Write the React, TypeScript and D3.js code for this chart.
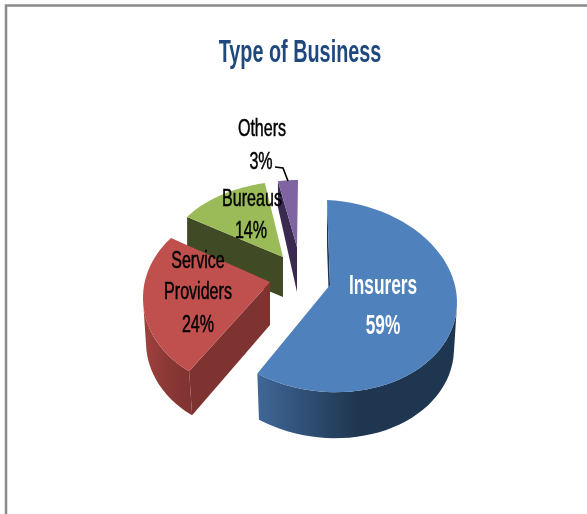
import React from "react";
import * as d3 from "d3";

const categories = ["Insurers", "Service Providers", "Bureaus", "Others"];
const values = [59, 24, 14, 3];
const topColors = ["#4f81bd", "#c0504d", "#9bbb59", "#8064a2"];
const innerWallColors = ["#1f3552", "#7f3331", "#404a24", "#3a2a52"];
const outerWallStops = [["#3f6797", "#1f3650", "#1f3650"], ["#a0423f", "#8a3835", "#7f3331"], ["#404a24", "#404a24", "#404a24"], ["#3a2a52", "#3a2a52", "#3a2a52"]];
const title = "Type of Business";

// projected geometry of every exploded slice
const cxs = [327, 253, 298, 298];
const cys = [296, 298, 253.5, 246];
const rxs = [130, 110, 128, 107];
const rys = [96, 90, 73, 66];
const shears = [0.05, 0, 0, 0];
const apexX = [330, 270, 283, 297];
const apexY = [285, 282, 257, 247];
const depths = [46, 43, 40, 45];
const rimDepths = [46, 44, 40, 26];
const paramStart = [0, 215.5, 300, 349.2];
const paramEnd = [212.4, 311.8, 345, 360];
const bottomInset = [3, 0, 0, 0];
const bottomShift = [0, 3, 0, 0];

const labelLines = [
  { lines: ["Insurers", "59%"], xs: [383, 383], ys: [284, 324], fill: "#fff", size: 27, sx: 0.64 },
  { lines: ["Service", "Providers", "24%"], xs: [198, 198, 198], ys: [259, 290, 323], fill: "#000", size: 24, sx: 0.67 },
  { lines: ["Bureaus", "14%"], xs: [252, 251], ys: [197, 229], fill: "#000", size: 24, sx: 0.67 },
  { lines: ["Others", "3%"], xs: [262, 261], ys: [127, 160], fill: "#000", size: 24, sx: 0.67 },
];

const rad = (d: number) => (d * Math.PI) / 180;
const line = d3.line<[number, number]>().x((d) => d[0]).y((d) => d[1]);

export default function App() {
  const arcs = d3.pie<number>().sort(null).startAngle(0).endAngle(2 * Math.PI)(values);

  const slices = arcs.map((a, i) => {
    const toParam = d3.scaleLinear().domain([a.startAngle, a.endAngle]).range([paramStart[i], paramEnd[i]]);
    const rim = (t: number, lower = false): [number, number] => {
      const rx = rxs[i] - (lower ? bottomInset[i] : 0);
      const cx = cxs[i] + (lower ? bottomShift[i] : 0);
      const dx = rx * Math.sin(rad(t));
      return [cx + dx, cys[i] + (lower ? rimDepths[i] : 0) - rys[i] * Math.cos(rad(t)) + shears[i] * dx];
    };
    const t0 = toParam(a.startAngle);
    const t1 = toParam(a.endAngle);
    const ts = d3.range(0, 61).map((k) => t0 + ((t1 - t0) * k) / 60);
    const apex: [number, number] = [apexX[i], apexY[i]];
    const apexLow: [number, number] = [apexX[i], apexY[i] + depths[i]];
    const top = line([apex, ...ts.map((t) => rim(t))]) + "Z";
    const startWall = line([rim(t0), apex, apexLow, rim(t0, true)]) + "Z";
    const vis = ts.filter((t) => t >= 90 && t <= 270);
    const outer = vis.length > 1 ? line([...vis.map((t) => rim(t)), ...vis.slice().reverse().map((t) => rim(t, true))]) + "Z" : null;
    return { i, top, startWall, outer };
  });

  const font = '"Liberation Sans", sans-serif';
  const order = [3, 2, 1, 0];

  return (
    <svg width={587} height={514} style={{ position: "fixed", left: 0, top: 0, background: "#fff" }}>
      <defs>
        {slices.map((s) => (
          <linearGradient key={s.i} id={`wall${s.i}`} x1="0" x2="1" y1="0" y2="0">
            {outerWallStops[s.i].map((c, k) => (
              <stop key={k} offset={`${k * 50}%`} stopColor={c} />
            ))}
          </linearGradient>
        ))}
      </defs>
      <path d="M6,514V5.5H587" fill="none" stroke="#8a8a8a" strokeWidth={2.5} />
      <text transform="translate(300,62) scale(0.62,1)" textAnchor="middle" fontFamily={font} fontSize={32} fontWeight={700} fill="#1f497d" style={{ filter: "blur(0.3px)" }}>
        {title}
      </text>
      {order.map((i) => {
        const s = slices[i];
        return (
          <g key={i}>
            <path d={s.startWall} fill={innerWallColors[i]} />
            {s.outer && <path d={s.outer} fill={`url(#wall${i})`} />}
            <path d={s.top} fill={topColors[i]} />
          </g>
        );
      })}
      <path d="M275,167L283,168L288,181" fill="none" stroke="#000" strokeWidth={1.6} />
      {labelLines.map((l, i) =>
        l.lines.map((t, k) => (
          <text key={`${i}-${k}`} transform={`translate(${l.xs[k]},${l.ys[k]}) scale(${l.sx},1)`} dy="0.36em" textAnchor="middle" fontFamily={font} fontSize={l.size} fontWeight={i === 0 ? 700 : 400} fill={l.fill} stroke={l.fill} strokeWidth={i === 0 ? 0 : 0.5} style={{ filter: "blur(0.3px)" }}>
            {t}
          </text>
        ))
      )}
    </svg>
  );
}
